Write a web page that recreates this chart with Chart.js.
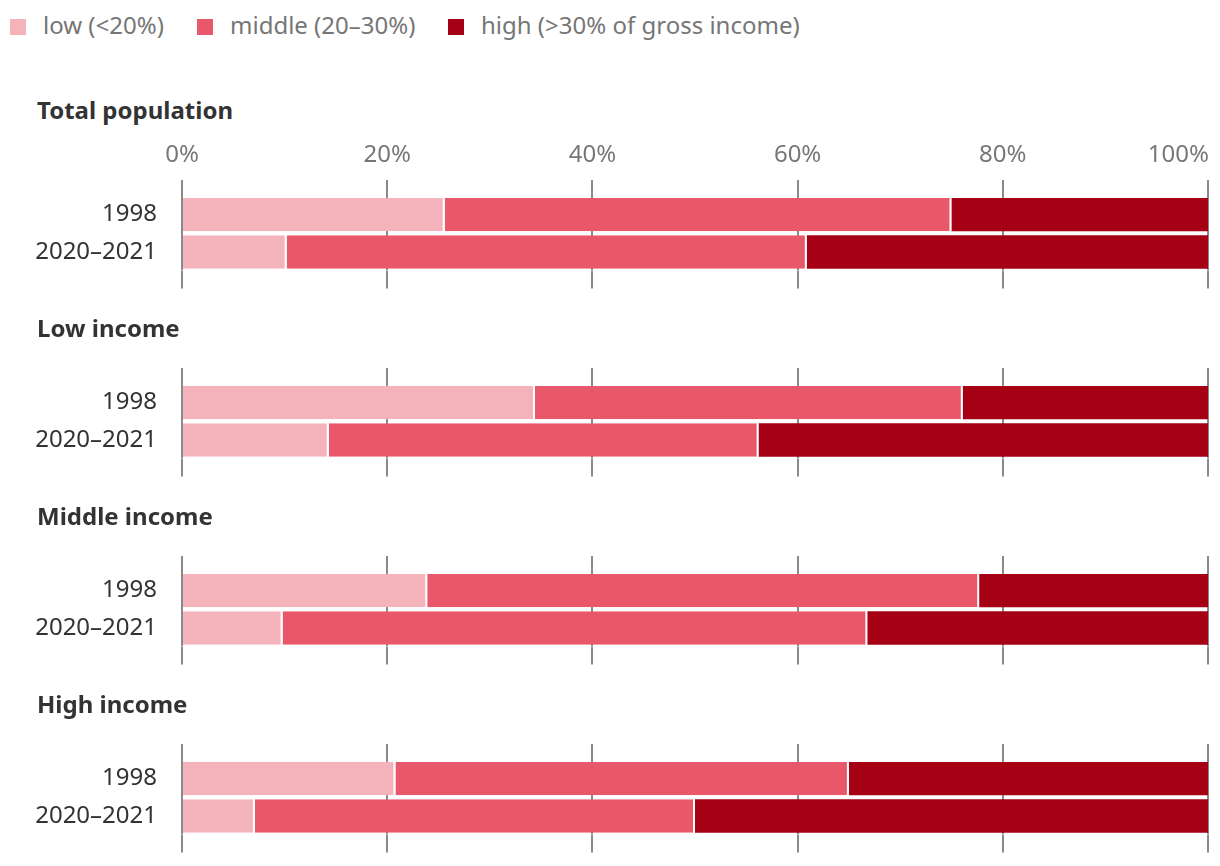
<!DOCTYPE html>
<html>
<head>
<meta charset="utf-8">
<script src="https://cdn.jsdelivr.net/npm/chart.js@4/dist/chart.umd.min.js"></script>
<style>
  html, body { margin: 0; padding: 0; background: #fff; }
  body { width: 1220px; height: 866px; position: relative; overflow: hidden; font-family: "Noto Sans", "Open Sans", sans-serif; }
  .legend-item { position: absolute; top: 10px; height: 30px; display: flex; align-items: center; font-size: 24px; color: #767676; white-space: nowrap; line-height: 30px; }
  .legend-item .sw { width: 16px; height: 16px; margin-right: 17px; flex: none; position: relative; top: 2px; }
  .title { position: absolute; left: 37px; font-size: 24px; font-weight: bold; color: #333; line-height: 1; white-space: nowrap; }
  .panel { position: absolute; left: 0; width: 1220px; height: 180px; }
</style>
</head>
<body>
<div id="legend"></div>
<div id="panels"></div>
<script>
// ---- data ----
const groups = ["Total population", "Low income", "Middle income", "High income"];
const periods = ["1998", "2020–2021"];
const seriesNames = ["low (<20%)", "middle (20–30%)", "high (>30% of gross income)"];
const seriesColors = ["#f4b3bb", "#e8586a", "#a50014"];
// values per group: [1998, 2020–2021]
const lowShare    = [[25.6, 10.2], [34.4, 14.3], [23.9, 9.8], [20.8, 7.1]];
const middleShare = [[49.4, 50.7], [41.7, 41.9], [53.8, 57.0], [44.2, 42.9]];
const highShare   = [[25.0, 39.1], [23.9, 43.8], [22.3, 33.2], [35.0, 50.0]];
const tickValues = [0, 20, 40, 60, 80, 100];
const tickLabels = ["0%", "20%", "40%", "60%", "80%", "100%"];

// ---- legend ----
const legendLefts = [10, 197, 448];
const legend = document.getElementById("legend");
seriesNames.forEach((n, i) => {
  const it = document.createElement("div");
  it.className = "legend-item";
  it.style.left = legendLefts[i] + "px";
  const sw = document.createElement("span");
  sw.className = "sw";
  sw.style.background = seriesColors[i];
  const tx = document.createElement("span");
  tx.textContent = n;
  it.appendChild(sw); it.appendChild(tx);
  legend.appendChild(it);
});

// ---- panels ----
const topLabelsPlugin = {
  id: "topLabels",
  afterDraw(chart) {
    if (!chart.options.plugins.topLabels || !chart.options.plugins.topLabels.show) return;
    const sc = chart.scales.x;
    const ctx = chart.ctx;
    ctx.save();
    ctx.font = "24px 'Noto Sans', 'Open Sans', sans-serif";
    ctx.fillStyle = "#777";
    ctx.textBaseline = "middle";
    tickValues.forEach((v, i) => {
      const x = sc.getPixelForValue(v);
      const last = i === tickValues.length - 1;
      ctx.textAlign = last ? "right" : "center";
      ctx.fillText(tickLabels[i], last ? x + 1 : x, 25);
    });
    ctx.restore();
  }
};

const panels = document.getElementById("panels");
const segData = [lowShare, middleShare, highShare];
groups.forEach((g, gi) => {
  const off = 188 * gi;
  const t = document.createElement("div");
  t.className = "title";
  t.style.top = (98 + off + (gi > 0 ? 30 : 0)) + "px";
  t.textContent = g;
  document.body.appendChild(t);

  const div = document.createElement("div");
  div.className = "panel";
  div.style.top = (130 + off) + "px";
  const cv = document.createElement("canvas");
  div.appendChild(cv);
  panels.appendChild(div);

  const datasets = seriesNames.map((n, si) => ({
    label: n,
    data: segData[si][gi],
    backgroundColor: seriesColors[si],
    borderColor: "#ffffff",
    borderWidth: si < 2 ? { top: 0, right: 2, bottom: 0, left: 0 } : 0,
    borderSkipped: false,
    barPercentage: 34 / 38,
    categoryPercentage: 1
  }));

  new Chart(cv, {
    type: "bar",
    data: { labels: periods, datasets },
    plugins: [topLabelsPlugin],
    options: {
      indexAxis: "y",
      responsive: true,
      maintainAspectRatio: false,
      animation: false,
      layout: { padding: { top: 50, bottom: 10, left: 0, right: 12 } },
      plugins: {
        legend: { display: false },
        tooltip: { enabled: false },
        topLabels: { show: gi === 0 }
      },
      scales: {
        x: {
          type: "linear", position: "top", stacked: true, min: 0, max: 100,
          ticks: { stepSize: 20, display: false },
          grid: { color: "#8a8a8a", lineWidth: 2, tickLength: 16, drawTicks: true },
          border: { display: false }
        },
        x2: {
          type: "linear", position: "bottom", min: 0, max: 100,
          ticks: { stepSize: 20, display: false },
          grid: { color: "#8a8a8a", lineWidth: 2, tickLength: 18, drawTicks: true, drawOnChartArea: false },
          border: { display: false }
        },
        y: {
          stacked: true,
          ticks: { color: "#333", font: { family: "'Noto Sans', 'Open Sans', sans-serif", size: 24 }, padding: 25 },
          grid: { display: false, drawTicks: false },
          border: { display: false },
          afterFit(scale) { scale.width = 182; }
        }
      }
    }
  });
});
</script>
</body>
</html>
